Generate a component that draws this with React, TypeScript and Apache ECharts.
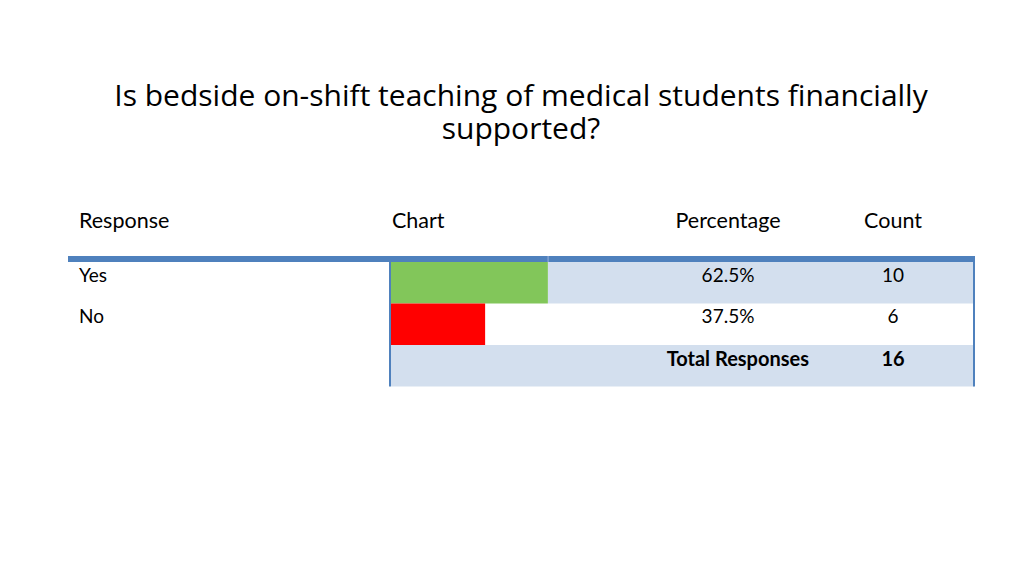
import React, { useEffect, useRef } from "react";
import * as echarts from "echarts";

const TITLE_LINES = ["Is bedside on-shift teaching of medical students financially", "supported?"];
const HEADERS = ["Response", "Chart", "Percentage", "Count"];
const categories = ["Yes", "No"];
const counts = [10, 6];
const percentages = [62.5, 37.5];
const barColors = ["#82C65A", "#FF0000"];
const totalLabel = "Total Responses";
const total = 16;

const TABLE_FONT = "Lato, 'Liberation Sans', sans-serif";
const TITLE_FONT = "'Open Sans', 'Noto Sans', sans-serif";
const BLUE = "#4F81BD";
const LIGHT = "#D3DFEE";

export default function App() {
  const ref = useRef<HTMLDivElement>(null);
  useEffect(() => {
    if (!ref.current) return;
    const chart = echarts.init(ref.current, undefined, { renderer: "svg" });
    const rowTop = 262;
    const rowH = 41.5;
    const left = 68;
    const right = 974;
    const chartLeft = 391;
    const pctX = 728;
    const cntX = 893;

    const graphic: any[] = [];
    // title
    graphic.push({
      type: "text",
      x: 521,
      y: 111,
      style: {
        text: TITLE_LINES.join("\n"),
        font: `30px ${TITLE_FONT}`,
        lineHeight: 33,
        fill: "#000",
        textAlign: "center",
        textVerticalAlign: "middle",
      },
    });
    // backgrounds
    graphic.push({ type: "rect", shape: { x: 548, y: rowTop, width: right - 548, height: rowH }, style: { fill: LIGHT }, z: -1 });
    graphic.push({ type: "rect", shape: { x: chartLeft, y: rowTop + rowH * 2, width: right - chartLeft, height: rowH }, style: { fill: LIGHT }, z: -1 });
    // top thick line
    graphic.push({ type: "rect", shape: { x: left, y: 256, width: right - left + 1, height: 6 }, style: { fill: BLUE }, z: 5 });
    graphic.push({ type: "rect", shape: { x: 547.5, y: 256, width: 1.2, height: 6 }, style: { fill: "#8EAAD6" }, z: 6 });
    // verticals
    graphic.push({ type: "line", shape: { x1: 390, y1: rowTop, x2: 390, y2: rowTop + rowH * 3 }, style: { stroke: BLUE, lineWidth: 2 }, z: 5 });
    graphic.push({ type: "line", shape: { x1: 974, y1: 256, x2: 974, y2: rowTop + rowH * 3 }, style: { stroke: BLUE, lineWidth: 2 }, z: 5 });

    // headers
    const hy = 220;
    const hf = `21.5px ${TABLE_FONT}`;
    graphic.push({ type: "text", x: 79, y: hy, style: { text: HEADERS[0], font: hf, fill: "#000", textAlign: "left", textVerticalAlign: "middle" } });
    graphic.push({ type: "text", x: 392, y: hy, style: { text: HEADERS[1], font: hf, fill: "#000", textAlign: "left", textVerticalAlign: "middle" } });
    graphic.push({ type: "text", x: pctX, y: hy, style: { text: HEADERS[2], font: hf, fill: "#000", textAlign: "center", textVerticalAlign: "middle" } });
    graphic.push({ type: "text", x: cntX, y: hy, style: { text: HEADERS[3], font: hf, fill: "#000", textAlign: "center", textVerticalAlign: "middle" } });

    const rf = `19px ${TABLE_FONT}`;
    categories.forEach((c, i) => {
      const y = rowTop + rowH * i + 12;
      graphic.push({ type: "text", x: 79, y, style: { text: c, font: rf, fill: "#000", textAlign: "left", textVerticalAlign: "middle" } });
      graphic.push({ type: "text", x: pctX, y, style: { text: percentages[i].toFixed(1) + "%", font: rf, fill: "#000", textAlign: "center", textVerticalAlign: "middle" } });
      graphic.push({ type: "text", x: cntX, y, style: { text: String(counts[i]), font: rf, fill: "#000", textAlign: "center", textVerticalAlign: "middle" } });
    });
    const ty = rowTop + rowH * 2 + 12.5;
    const bf = `bold 20px ${TABLE_FONT}`;
    graphic.push({ type: "text", x: 809, y: ty, style: { text: totalLabel, font: bf, fill: "#000", textAlign: "right", textVerticalAlign: "middle" } });
    graphic.push({ type: "text", x: cntX, y: ty, style: { text: String(total), font: bf, fill: "#000", textAlign: "center", textVerticalAlign: "middle" } });

    chart.setOption({
      animation: false,
      grid: { left: chartLeft, top: rowTop, width: 251, height: rowH * 2 },
      xAxis: { type: "value", min: 0, max: 100, show: false },
      yAxis: { type: "category", data: categories, inverse: true, show: false },
      series: [
        {
          type: "bar",
          barWidth: "100%",
          data: percentages.map((v, i) => ({ value: v, itemStyle: { color: barColors[i] } })),
          z: 3,
        },
      ],
      graphic,
    });
    return () => chart.dispose();
  }, []);
  return <div ref={ref} style={{ position: "absolute", left: 0, top: 0, width: 1024, height: 575, background: "#fff" }} />;
}
